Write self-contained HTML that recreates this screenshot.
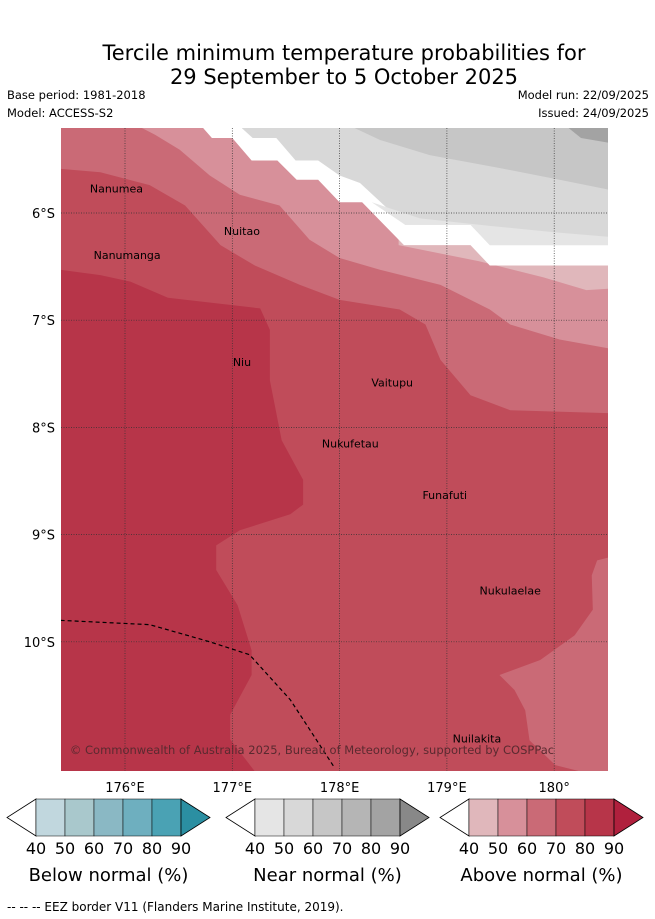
<!DOCTYPE html>
<html><head><meta charset="utf-8"><style>
html,body{margin:0;padding:0;background:#fff;}
svg{display:block;font-family:"DejaVu Sans","Liberation Sans",sans-serif;}
</style></head><body>
<svg id="c" width="655" height="919" viewBox="0 0 655 919">
<text x="344" y="60" font-size="21" text-anchor="middle">Tercile minimum temperature probabilities for</text>
<text x="344" y="84" font-size="21" text-anchor="middle">29 September to 5 October 2025</text>
<text x="7" y="99" font-size="11.5">Base period: 1981-2018</text>
<text x="7" y="117" font-size="11.5">Model: ACCESS-S2</text>
<text x="649" y="99" font-size="11.5" text-anchor="end">Model run: 22/09/2025</text>
<text x="649" y="117" font-size="11.5" text-anchor="end">Issued: 24/09/2025</text>
<defs><clipPath id="mc"><rect x="61" y="128" width="547" height="643"/></clipPath></defs>
<g id="map" clip-path="url(#mc)"></g>
<g id="axes"></g>
<g id="bars"></g>
<text x="7" y="911" font-size="12">--  --  -- EEZ border V11 (Flanders Marine Institute, 2019).</text>
</svg>
<script>
const NS="http://www.w3.org/2000/svg";
const lonTicks=[176,177,178,179,180];
const lonLabels=["176°E","177°E","178°E","179°E","180°"];
const latTicks=[6,7,8,9,10];
const latLabels=["6°S","7°S","8°S","9°S","10°S"];
const darkest=[[175.4,6.53],[175.77,6.58],[176.05,6.64],[176.4,6.79],[177.26,6.89],[177.35,7.09],[177.35,7.56],[177.46,8.12],[177.66,8.49],[177.66,8.72],[177.54,8.81],[177.07,8.96],[176.85,9.10],[176.85,9.33],[177.05,9.66],[177.18,10.08],[177.18,10.31],[176.98,10.68],[176.98,10.91],[177.28,11.3],[175.3,11.3]];
const p60=[[175.3,5.1],[175.3,5.58],[175.77,5.62],[176.23,5.74],[176.56,5.93],[176.89,6.30],[177.21,6.49],[177.63,6.67],[178.0,6.81],[178.56,6.90],[178.80,7.04],[178.94,7.37],[179.22,7.70],[179.59,7.84],[180.6,7.87],[180.6,5.1]];
const p60b=[[180.6,9.19],[180.4,9.24],[180.35,9.38],[180.36,9.70],[180.19,9.94],[179.87,10.17],[179.49,10.31],[179.63,10.45],[179.73,10.64],[179.77,10.92],[180.01,11.15],[180.6,11.3]];
const p50=[[175.95,5.1],[176.28,5.27],[176.51,5.41],[176.79,5.65],[177.07,5.83],[177.44,5.93],[177.72,6.25],[178.0,6.42],[178.38,6.53],[178.94,6.67],[179.40,6.90],[179.59,7.04],[180.05,7.18],[180.6,7.28],[180.6,5.1]];
const p40=[[178.55,6.30],[179.3,6.45],[179.9,6.6],[180.3,6.72],[180.6,6.70],[180.6,5.1],[178.55,5.1]];
const white=[[176.73,5.1],[176.73,5.21],[176.81,5.30],[177.0,5.30],[177.18,5.51],[177.42,5.51],[177.60,5.69],[177.80,5.69],[178.0,5.90],[178.21,5.90],[178.60,6.30],[179.22,6.30],[179.40,6.49],[180.6,6.49],[180.6,5.1]];
const grey50=[[177.09,5.1],[177.09,5.21],[177.19,5.30],[177.41,5.30],[177.59,5.51],[177.80,5.51],[178.0,5.65],[178.19,5.72],[178.61,6.11],[179.22,6.11],[179.40,6.30],[180.6,6.30],[180.6,5.1]];
const grey40=[[178.3,5.9],[178.75,6.05],[179.4,6.12],[180.0,6.18],[180.6,6.23],[180.6,6.30],[179.40,6.30],[179.22,6.11],[178.61,6.11]];
const grey60=[[177.91,5.1],[178.38,5.32],[178.84,5.46],[179.49,5.58],[180.05,5.69],[180.6,5.80],[180.6,5.1]];
const grey80=[[180.0,5.1],[180.25,5.30],[180.6,5.36],[180.6,5.1]];
const eez=[[175.4,9.80],[176.23,9.84],[176.79,10.0],[177.16,10.12],[177.54,10.54],[177.95,11.17]];
const islandNames=["Nanumea","Nuitao","Nanumanga","Niu","Vaitupu","Nukufetau","Funafuti","Nukulaelae","Nuilakita"];
const islandLon=[175.92,177.09,176.02,177.09,178.49,178.10,178.98,179.59,179.28];
const islandLat=[5.77,6.17,6.39,7.39,7.58,8.15,8.63,9.52,10.90];
const barTicks=["40","50","60","70","80","90"];
const barTitles=["Below normal (%)","Near normal (%)","Above normal (%)"];
const barColors=[["#c1d7de","#a9c8cc","#8ab8c4","#6eafbf","#4aa2b4","#2b8fa2"],["#e5e5e5","#d8d8d8","#c6c6c6","#b5b5b5","#a3a3a3","#888888"],["#e0b7bb","#d7909a","#ca6a76","#c04c5a","#b73549","#b0203d"]];
const X=lon=>125+(lon-176)*107.3, Y=lat=>213+(lat-6)*107.2;
function mk(tag,attrs,parent){const e=document.createElementNS(NS,tag);for(const k in attrs)e.setAttribute(k,attrs[k]);parent.appendChild(e);return e;}
const map=document.getElementById('map'), axes=document.getElementById('axes'), bars=document.getElementById('bars');
const bg=mk('rect',{x:61,y:128,width:547,height:643,fill:'#c04c5a'},map);


const layers=[[darkest,'#b73549','contour-80-90'],[p60,'#ca6a76','contour-60-70'],[p60b,'#ca6a76','contour-60-70-south'],[p50,'#d7909a','contour-50-60'],[p40,'#e0b7bb','contour-40-50'],[white,'#ffffff','no-signal-area'],[grey50,'#d8d8d8','near-normal-50-60'],[grey40,'#e5e5e5','near-normal-40-50'],[grey60,'#c6c6c6','near-normal-60-70'],[grey80,'#a3a3a3','near-normal-80-90']];
layers.forEach(([pts,col,nm])=>{const p=mk('polygon',{points:pts.map(q=>X(q[0])+','+Y(q[1])).join(' '),fill:col},map);

});
lonTicks.forEach((t,i)=>{const l=mk('line',{x1:X(t),x2:X(t),y1:128,y2:771,stroke:'#333','stroke-width':0.7,'stroke-dasharray':'1,1.5'},map);


const tx=mk('text',{x:X(t),y:792,'font-size':13,'text-anchor':'middle'},axes);tx.textContent=lonLabels[i];

});
latTicks.forEach((t,i)=>{const l=mk('line',{x1:61,x2:608,y1:Y(t),y2:Y(t),stroke:'#333','stroke-width':0.7,'stroke-dasharray':'1,1.5'},map);


const tx=mk('text',{x:55,y:Y(t)+5,'font-size':13,'text-anchor':'end'},axes);tx.textContent=latLabels[i];

});
const ez=mk('polyline',{points:eez.map(q=>X(q[0])+','+Y(q[1])).join(' '),fill:'none',stroke:'#000','stroke-width':1.2,'stroke-dasharray':'4,3'},map);


islandNames.forEach((n,i)=>{const t=mk('text',{x:X(islandLon[i]),y:Y(islandLat[i])+4,'font-size':11,'text-anchor':'middle'},map);t.textContent=n;

});
const cp=mk('text',{x:312,y:754,'font-size':11.5,'text-anchor':'middle',fill:'#5a2a30'},map);cp.textContent="© Commonwealth of Australia 2025, Bureau of Meteorology, supported by COSPPac";


const bx=[7,226,440];
bx.forEach((x0,b)=>{const top=799,h=37,r0=x0+29,w=29;
const lt=mk('polygon',{points:`${r0},${top} ${x0},${top+h/2} ${r0},${top+h}`,fill:'#fff',stroke:'#000','stroke-width':0.8},bars);


for(let i=0;i<5;i++){const r=mk('rect',{x:r0+i*w,y:top,width:w,height:h,fill:barColors[b][i],stroke:'#000','stroke-width':0.5},bars);

}
const re=r0+5*w;
const rt=mk('polygon',{points:`${re},${top} ${re+29},${top+h/2} ${re},${top+h}`,fill:barColors[b][5],stroke:'#000','stroke-width':0.8},bars);


barTicks.forEach((t,i)=>{const tx=mk('text',{x:r0+i*w,y:854,'font-size':16,'text-anchor':'middle'},bars);tx.textContent=t;

});
const ti=mk('text',{x:r0+2.5*w,y:881,'font-size':18,'text-anchor':'middle'},bars);ti.textContent=barTitles[b];

});
</script>
</body></html>
